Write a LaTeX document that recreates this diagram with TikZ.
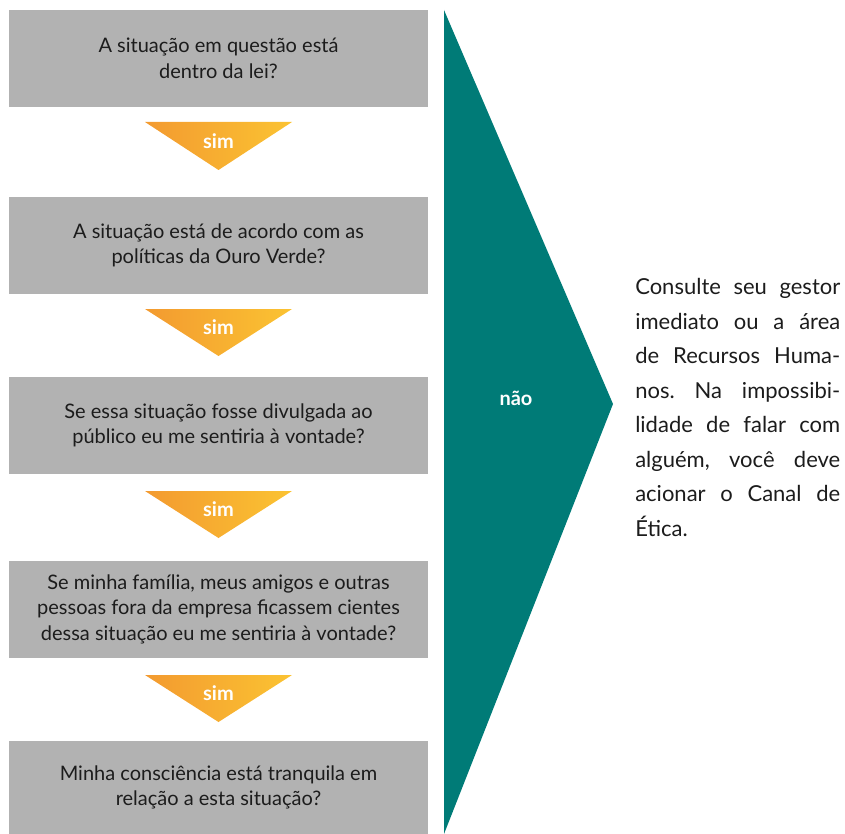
\documentclass[tikz,border=0pt]{standalone}
\usepackage{fontspec}
\setmainfont{Lato}
\usepackage{tikz}
\definecolor{boxgray}{HTML}{B2B2B2}
\definecolor{textdark}{HTML}{1C1C1C}
\definecolor{naoteal}{HTML}{007B77}
\definecolor{simleft}{HTML}{F39A30}
\definecolor{simright}{HTML}{FBC332}
\frenchspacing

\begin{document}
\begin{tikzpicture}
[x=0.75pt,y=-0.75pt,
mybox/.style={rectangle,minimum width=314.25pt,minimum height=72.75pt,inner sep=0pt,align=center,fill=boxgray,text=textdark,font=\fontsize{15}{19.1}\selectfont},
simtri/.style={left color=simleft,right color=simright},
simlabel/.style={text=white,font=\bfseries\fontsize{15}{17}\selectfont},
]
\useasboundingbox (0,0) rectangle (845,834);

\node [mybox] (A) at (218.5,58.5){A situação em questão está \\ dentro da lei?};
\node [mybox] (B) at (218.5,245.5){A situação está de acordo com as \\ políticas da Ouro Verde?};
\node [mybox] (C) at (218.5,425.5){Se essa situação fosse divulgada ao \\ público eu me sentiria à vontade?};
\node [mybox] (D) at (218.5,609){Se minha família, meus amigos e outras \\ pessoas fora da empresa ficassem cientes \\ dessa situação eu me sentiria à vontade?};
\node [mybox,minimum height=69.75pt] (E) at (218.5,787.5){Minha consciência está tranquila em \\ relação a esta situação?};

\shade[simtri] (145,122) -- (292,122) -- (218.5,170) -- cycle;
\shade[simtri] (145,309) -- (292,309) -- (218.5,356) -- cycle;
\shade[simtri] (145,491) -- (292,491) -- (218.5,538) -- cycle;
\shade[simtri] (145,675) -- (292,675) -- (218.5,722) -- cycle;
\node [simlabel] (S1) at (218.5,141){sim};
\node [simlabel] (S2) at (218.5,327){sim};
\node [simlabel] (S3) at (218.5,509){sim};
\node [simlabel] (S4) at (218.5,693){sim};

\fill[naoteal] (444,10) -- (613,404) -- (444,834) -- cycle;
\node [simlabel] (N) at (516,398){não};

\node [anchor=north west,inner sep=0pt,text width=153.75pt,align=justify,text=textdark,font=\fontsize{16.5}{25.9}\selectfont] (T) at (635,278){Consulte seu gestor\linebreak imediato ou a área\linebreak de Recursos Huma-\linebreak nos. Na impossibi-\linebreak lidade de falar com\linebreak alguém, você deve\linebreak acionar o Canal de\linebreak Ética.};
\end{tikzpicture}
\end{document}
